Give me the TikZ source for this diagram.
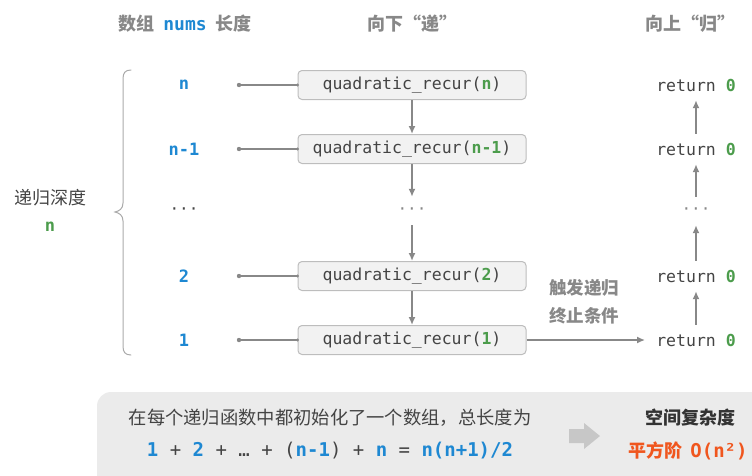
\documentclass[tikz,border=0pt]{standalone}
\usepackage{fontspec}
\setmainfont{Noto Sans CJK SC}
\setmonofont{DejaVu Sans Mono}
\usetikzlibrary{arrows.meta}
\definecolor{cblue}{HTML}{1E88D2}
\definecolor{cgreen}{HTML}{4C9C4C}
\definecolor{cgray}{HTML}{888888}
\definecolor{cdark}{HTML}{444444}
\definecolor{corange}{HTML}{F0561E}
\definecolor{boxfill}{HTML}{F2F2F2}
\definecolor{boxline}{HTML}{BDBDBD}
\definecolor{panel}{HTML}{EBEBEB}
\tikzset{
  hdr/.style={font=\fontsize{18}{20}\selectfont\bfseries, text=cgray},
  lab/.style={font=\fontsize{17}{19}\selectfont\ttfamily\bfseries, text=cblue},
  box/.style={draw=boxline, fill=boxfill, rounded corners=4pt, line width=1pt,
    minimum width=228pt, minimum height=29pt, inner sep=0pt,
    font=\fontsize{16.5}{18}\selectfont\ttfamily, text=cdark},
  ret/.style={minimum height=30pt, inner ysep=0pt, inner xsep=11pt,
    font=\fontsize{16.5}{18}\selectfont\ttfamily, text=cdark},
  dotsn/.style={minimum height=28pt, inner ysep=0pt, font=\fontsize{16}{18}\selectfont\ttfamily, text=cgray},
  arr/.style={draw=cgray, line width=1.6pt, -{Latex[length=8pt,width=7pt]}},
  conn/.style={draw=cgray, line width=1.3pt},
}
\begin{document}
\begin{tikzpicture}[x=1pt,y=-1pt]
\useasboundingbox (0,0) rectangle (752,475);
\clip (0,0) rectangle (752,475);
% headers
\node[hdr] (h1) at (185,24) {数组\hspace{9pt}\textcolor{cblue}{\ttfamily\bfseries nums}\hspace{9pt}长度};
\node[hdr] (h2) at (412,24) {向下“递”};
\node[hdr] (h3) at (690,24) {向上“归”};
% brace
\draw[draw=boxline!90!black, line width=1pt, line cap=round]
  (131,70) .. controls (125,70) and (123,73) .. (123,79) -- (123,203)
  .. controls (123,209) and (119,211) .. (115,212)
  .. controls (119,213) and (123,215) .. (123,221) -- (123,346)
  .. controls (123,352) and (125,355) .. (131,355);
\node[font=\fontsize{18}{20}\selectfont, text=cdark] (depth) at (50,198) {递归深度};
\node[font=\fontsize{17}{19}\selectfont\ttfamily\bfseries, text=cgreen] (depthn) at (50,227) {n};
% left labels
\node[lab] (l1) at (184,85) {n};
\node[lab] (l2) at (184,149) {n-1};
\node[dotsn, text=cdark] (l3) at (184,211) {···};
\node[lab] (l4) at (184,276) {2};
\node[lab] (l5) at (184,340) {1};
% boxes
\node[box] (b1) at (412,85) {quadratic\_recur(\textcolor{cgreen}{\bfseries n})};
\node[box] (b2) at (412,149) {quadratic\_recur(\textcolor{cgreen}{\bfseries n-1})};
\node[dotsn] (bd) at (412,211) {···};
\node[box] (b3) at (412,276) {quadratic\_recur(\textcolor{cgreen}{\bfseries 2})};
\node[box] (b4) at (412,340) {quadratic\_recur(\textcolor{cgreen}{\bfseries 1})};
% dots and connectors
\foreach \i/\y/\b in {1/85/b1,2/149/b2,4/276/b3,5/340/b4}{
  \coordinate (d\i) at (239,\y);
  \fill[cgray] (d\i) circle (2.2pt);
  \draw[conn] (d\i) -- (\b.west);
  \fill[cgray] (\b.west) circle (1.6pt);
}
% down arrows
\draw[arr] (b1.south) -- (b2.north);
\draw[arr] (b2.south) -- (bd.north);
\draw[arr] (bd.south) -- (b3.north);
\draw[arr] (b3.south) -- (b4.north);
% returns
\node[ret] (r1) at (696,85) {return \textcolor{cgreen}{\bfseries 0}};
\node[ret] (r2) at (696,149) {return \textcolor{cgreen}{\bfseries 0}};
\node[dotsn] (rd) at (696,211) {···};
\node[ret] (r3) at (696,276) {return \textcolor{cgreen}{\bfseries 0}};
\node[ret] (r4) at (696,340) {return \textcolor{cgreen}{\bfseries 0}};
\draw[arr] (r4.north) -- (r3.south);
\draw[arr] (r3.north) -- (rd.south);
\draw[arr] (rd.north) -- (r2.south);
\draw[arr] (r2.north) -- (r1.south);
\draw[arr] (b4.east) -- (r4.west);
\node[hdr, align=center, font=\fontsize{17.5}{28}\selectfont\bfseries] (trig) at (584,302) {触发递归\\终止条件};
% bottom panel
\fill[panel, rounded corners=14pt] (97,392) rectangle (790,500);
\node[font=\fontsize{18.3}{20}\selectfont, text=cdark] (t1) at (330,418) {在每个递归函数中都初始化了一个数组，总长度为};
\node[font=\fontsize{19}{21}\selectfont\ttfamily, text=cdark] (t2) at (330,451)
 {\textcolor{cblue}{\bfseries 1} + \textcolor{cblue}{\bfseries 2} + … + (\textcolor{cblue}{\bfseries n-1}) + \textcolor{cblue}{\bfseries n} = \textcolor{cblue}{\bfseries n(n+1)/2}};
\coordinate (ga) at (569,436);
\fill[boxline!85!white] (ga) ++(0,-7) -- ++(15,0) -- ++(0,-6) -- (600,436) -- (584,449) -- ++(0,-6) -- ++(-15,0) -- cycle;
\node[font=\fontsize{18}{20}\selectfont\bfseries, text=black!80] (s1) at (690,418) {空间复杂度};
\node[font=\fontsize{18}{20}\selectfont\bfseries, text=corange] (s2) at (688,451) {平方阶\hspace{8pt}{\ttfamily\fontsize{19}{21}\selectfont O(n²)}};
\end{tikzpicture}
\end{document}
